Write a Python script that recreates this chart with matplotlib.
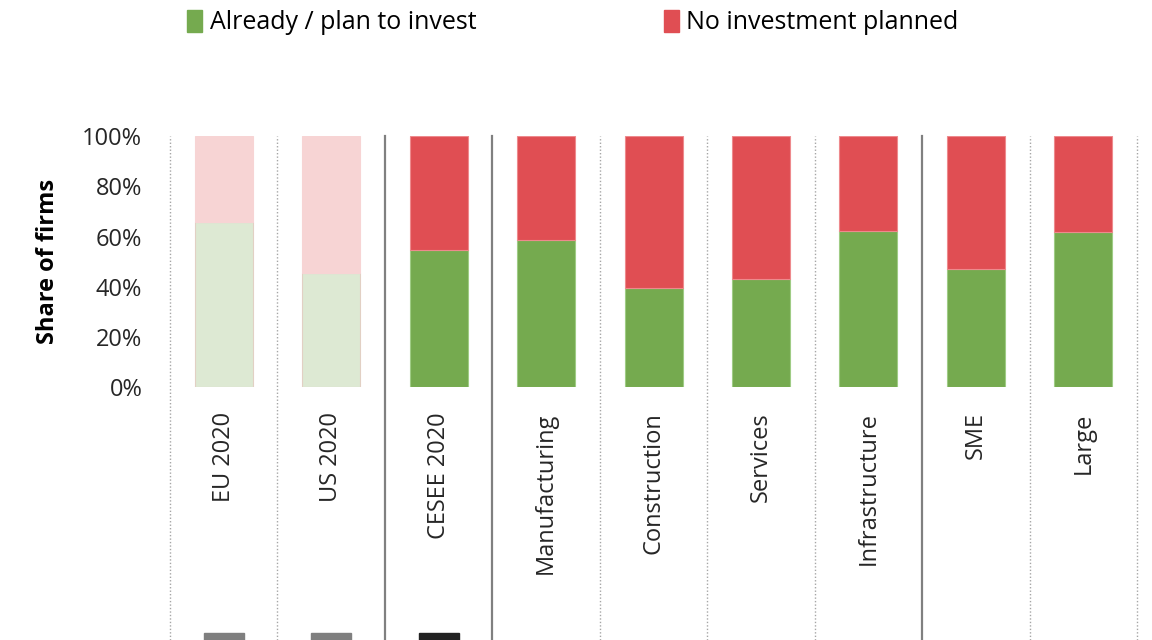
import numpy as np
import matplotlib.pyplot as plt
from matplotlib.patches import Patch, Rectangle
import matplotlib.transforms as mtransforms

plt.rcParams['font.family'] = ['Open Sans', 'DejaVu Sans']

categories = ["EU 2020", "US 2020", "CESEE 2020", "Manufacturing", "Construction",
              "Services", "Infrastructure", "SME", "Large"]
invest = [65.7, 45.4, 54.6, 58.6, 39.4, 43.0, 62.2, 47.2, 62.0]
no_invest = [100 - v for v in invest]
faded = [True, True, False, False, False, False, False, False, False]
# separators between categories: True = solid group divider
solid_div = [False, False, True, True, False, False, False, True, False, False]
# small markers under the first three columns
marker_cols = ["#7f7f7f", "#7f7f7f", "#222222"]

green, red = "#75aa4f", "#e04e53"
lgreen, lred = "#dde9d3", "#f7d4d4"

fig = plt.figure(figsize=(11.52, 6.4), dpi=100)
ax = fig.add_axes([0.1476, 0.395, 0.8394, 0.3922])

x = np.arange(len(categories))
gcol = [lgreen if f else green for f in faded]
rcol = [lred if f else red for f in faded]
gedge = ["#e2d0c4" if f else "#9fcc85" for f in faded]
redge = [lred if f else "#ee8a8d" for f in faded]
ax.bar(x, invest, width=0.54, color=gcol, edgecolor=gedge, linewidth=0.8)
ax.bar(x, no_invest, bottom=invest, width=0.54, color=rcol, edgecolor=redge, linewidth=0.8)

ax.set_xlim(-0.5, len(categories) - 0.5)
ax.set_ylim(0, 100)
ax.set_yticks(np.arange(0, 101, 20))
ax.set_yticklabels([f"{v}%" for v in range(0, 101, 20)], fontsize=17, color="#262626")
ax.set_xticks(x)
ax.set_xticklabels(categories, rotation=90, fontsize=17, color="#262626", va="top")
ax.tick_params(axis="y", length=0, pad=20)
ax.tick_params(axis="x", length=0, pad=18)
ax.set_ylabel("Share of firms", fontsize=17, fontweight="bold", labelpad=16)
for s in ax.spines.values():
    s.set_visible(False)

# vertical dividers down to figure bottom
bottom_ax = -0.395 / 0.3922
for i, solid in enumerate(solid_div):
    xp = i - 0.5
    if solid:
        ax.axvline(xp, ymin=bottom_ax, ymax=1, color="#808080", lw=1.6, clip_on=False)
    else:
        ax.axvline(xp, ymin=bottom_ax, ymax=1, color="#a6a6a6", lw=1.0,
                   linestyle=(0, (1, 1.5)), clip_on=False)

# small colored markers at the very bottom
trans = mtransforms.blended_transform_factory(ax.transData, fig.transFigure)
for i, c in enumerate(marker_cols):
    fig.patches.append(Rectangle((i - 0.185, 0.0), 0.37, 7 / 640, transform=trans,
                                 color=c, clip_on=False))

handles = [Patch(color=green, label="Already / plan to invest"),
           Patch(color=red, label="No investment planned")]
fig.legend(handles=handles, loc="upper left", bbox_to_anchor=(0.143, 1.02), ncol=2,
           frameon=False, fontsize=18, handlelength=0.6, handleheight=1.0,
           handletextpad=0.3, columnspacing=7.5)

fig.savefig("out.png", dpi=100)
